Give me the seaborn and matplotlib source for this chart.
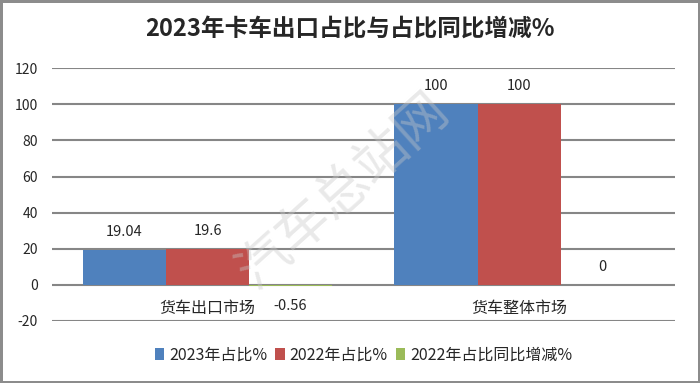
import pandas as pd
import seaborn as sns
import matplotlib.pyplot as plt

# data
categories = ["货车出口市场", "货车整体市场"]
series = ["2023年占比%", "2022年占比%", "2022年占比同比增减%"]
share_2023 = [19.04, 100]
share_2022 = [19.6, 100]
share_change = [-0.56, 0]
colors = ["#4F81BD", "#C0504D", "#9BBB59"]

rows = []
for s, vals in zip(series, [share_2023, share_2022, share_change]):
    for c, v in zip(categories, vals):
        rows.append({"市场": c, "系列": s, "值": v})
df = pd.DataFrame(rows)

sns.set_style("white")
plt.rcParams["font.family"] = ["Noto Sans CJK SC", "DejaVu Sans"]
plt.rcParams["axes.unicode_minus"] = False

fig = plt.figure(figsize=(7, 3.83), dpi=100, edgecolor="#8c8c8c", linewidth=2.5)
ax = fig.add_axes([0.074, 0.162, 0.89, 0.66])

sns.barplot(data=df, x="市场", y="值", hue="系列", palette=colors, saturation=1,
            hue_order=series, order=categories, width=0.8, ax=ax, legend=True,
            linewidth=0, edgecolor="none")

ax.set_ylim(-20, 120)
ax.set_yticks(range(-20, 121, 20))
ax.yaxis.grid(True, color="#868686", linewidth=1.5)
ax.set_axisbelow(True)
for sp in ax.spines.values():
    sp.set_visible(False)
ax.spines["bottom"].set_position(("data", 0))
ax.tick_params(axis="y", length=0, pad=10, labelsize=10)
ax.tick_params(axis="x", length=0, pad=11, labelsize=11.5)
ax.set_xlabel("")
ax.set_ylabel("")

# data labels
for cont in ax.containers:
    for bar in cont:
        h = bar.get_height()
        x = bar.get_x() + bar.get_width() / 2
        txt = f"{h:g}"
        if h < 0:
            ax.text(x, h - 11, txt, ha="center", va="center", fontsize=10.5)
        else:
            ax.text(x, h + 10, txt, ha="center", va="center", fontsize=10.5)

ax.legend(loc="center", bbox_to_anchor=(0.5, -0.135), ncol=3, frameon=False,
          fontsize=11.5, handlelength=0.6, handleheight=0.8, handletextpad=0.3,
          columnspacing=0.5)

fig.text(0.5, 0.925, "2023年卡车出口占比与占比同比增减%", ha="center", va="center",
         fontsize=17, fontweight="bold")

# watermark
fig.text(0.49, 0.5, "汽车总站网", ha="center", va="center", fontsize=38,
         fontweight="light", rotation=42, color="#c8c8c8", alpha=0.4)

fig.savefig("out.png", dpi=100)
